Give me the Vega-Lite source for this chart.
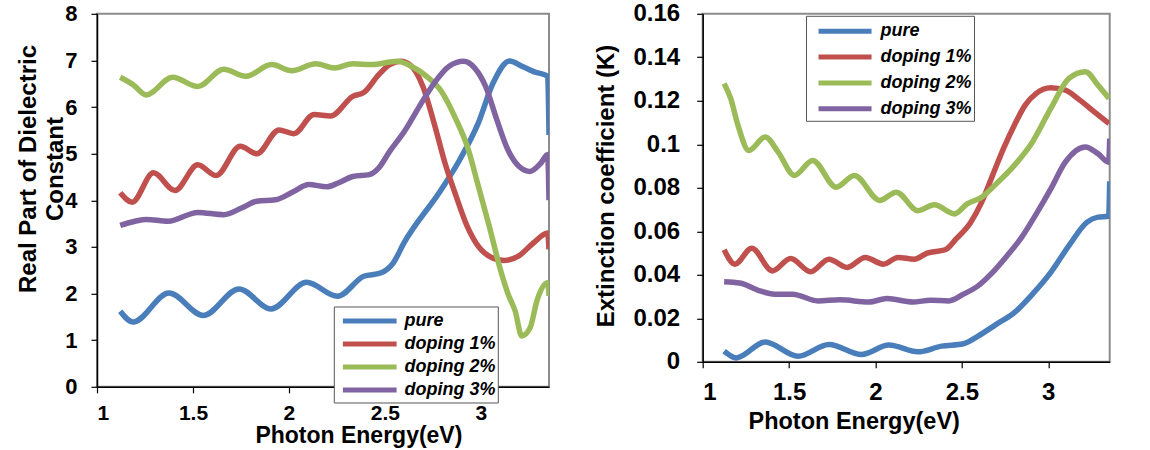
{
  "$schema": "https://vega.github.io/schema/vega-lite/v6.json",
  "background": "white",
  "padding": {"left": 15, "top": 0.8, "right": 5, "bottom": 2},
  "spacing": 153.7,
  "bounds": "flush",
  "config": {
    "font": "Liberation Sans",
    "view": {"stroke": "#8c8c8c", "strokeWidth": 2},
    "axis": {"domainColor": "black", "domainWidth": 1.5, "tickColor": "black", "tickSize": 6, "tickWidth": 1.2, "grid": false,
      "labelFont": "Liberation Sans", "labelFontWeight": "bold", "labelColor": "black",
      "titleFont": "Liberation Sans", "titleFontWeight": "bold", "titleColor": "black", "titleFontSize": 24},
    "legend": {"labelFont": "Liberation Sans", "labelFontWeight": "bold", "labelFontStyle": "italic", "labelFontSize": 18, "labelColor": "black", "labelLimit": 300,
      "strokeColor": "#555555", "fillColor": "white", "padding": 2, "symbolStrokeWidth": 5}
  },
  "datasets": {
    "eps": [
      {"s":"pure","E":1.121,"v":1.62},{"s":"pure","E":1.188,"v":1.39},{"s":"pure","E":1.375,"v":2.01},{"s":"pure","E":1.554,"v":1.53},{"s":"pure","E":1.74,"v":2.10},{"s":"pure","E":1.906,"v":1.67},{"s":"pure","E":2.092,"v":2.24},{"s":"pure","E":2.252,"v":1.94},{"s":"pure","E":2.39,"v":2.37},{"s":"pure","E":2.477,"v":2.44},{"s":"pure","E":2.544,"v":2.66},{"s":"pure","E":2.60,"v":3.09},{"s":"pure","E":2.794,"v":4.23},{"s":"pure","E":2.89,"v":4.87},{"s":"pure","E":2.987,"v":5.66},{"s":"pure","E":3.063,"v":6.51},{"s":"pure","E":3.15,"v":6.99},{"s":"pure","E":3.217,"v":6.87},{"s":"pure","E":3.275,"v":6.76},{"s":"pure","E":3.348,"v":6.66},{"s":"pure","E":3.355,"v":5.4},
      {"s":"doping 1%","E":1.121,"v":4.16},{"s":"doping 1%","E":1.183,"v":3.96},{"s":"doping 1%","E":1.294,"v":4.59},{"s":"doping 1%","E":1.406,"v":4.21},{"s":"doping 1%","E":1.525,"v":4.76},{"s":"doping 1%","E":1.621,"v":4.53},{"s":"doping 1%","E":1.746,"v":5.16},{"s":"doping 1%","E":1.833,"v":5.0},{"s":"doping 1%","E":1.948,"v":5.51},{"s":"doping 1%","E":2.025,"v":5.43},{"s":"doping 1%","E":2.131,"v":5.84},{"s":"doping 1%","E":2.217,"v":5.81},{"s":"doping 1%","E":2.333,"v":6.23},{"s":"doping 1%","E":2.39,"v":6.31},{"s":"doping 1%","E":2.467,"v":6.69},{"s":"doping 1%","E":2.525,"v":6.91},{"s":"doping 1%","E":2.583,"v":6.98},{"s":"doping 1%","E":2.64,"v":6.87},{"s":"doping 1%","E":2.698,"v":6.44},{"s":"doping 1%","E":2.756,"v":5.66},{"s":"doping 1%","E":2.813,"v":4.8},{"s":"doping 1%","E":2.871,"v":4.09},{"s":"doping 1%","E":2.929,"v":3.44},{"s":"doping 1%","E":2.987,"v":3.01},{"s":"doping 1%","E":3.063,"v":2.76},{"s":"doping 1%","E":3.121,"v":2.71},{"s":"doping 1%","E":3.198,"v":2.81},{"s":"doping 1%","E":3.275,"v":3.09},{"s":"doping 1%","E":3.348,"v":3.3},{"s":"doping 1%","E":3.355,"v":2.95},
      {"s":"doping 2%","E":1.121,"v":6.64},{"s":"doping 2%","E":1.188,"v":6.48},{"s":"doping 2%","E":1.256,"v":6.26},{"s":"doping 2%","E":1.394,"v":6.64},{"s":"doping 2%","E":1.525,"v":6.44},{"s":"doping 2%","E":1.66,"v":6.81},{"s":"doping 2%","E":1.775,"v":6.66},{"s":"doping 2%","E":1.91,"v":6.91},{"s":"doping 2%","E":2.015,"v":6.78},{"s":"doping 2%","E":2.14,"v":6.93},{"s":"doping 2%","E":2.237,"v":6.84},{"s":"doping 2%","E":2.333,"v":6.93},{"s":"doping 2%","E":2.429,"v":6.91},{"s":"doping 2%","E":2.563,"v":6.98},{"s":"doping 2%","E":2.64,"v":6.87},{"s":"doping 2%","E":2.717,"v":6.66},{"s":"doping 2%","E":2.794,"v":6.34},{"s":"doping 2%","E":2.871,"v":5.73},{"s":"doping 2%","E":2.929,"v":5.16},{"s":"doping 2%","E":2.987,"v":4.3},{"s":"doping 2%","E":3.044,"v":3.44},{"s":"doping 2%","E":3.102,"v":2.51},{"s":"doping 2%","E":3.14,"v":2.01},{"s":"doping 2%","E":3.179,"v":1.62},{"s":"doping 2%","E":3.213,"v":1.09},{"s":"doping 2%","E":3.256,"v":1.26},{"s":"doping 2%","E":3.294,"v":1.87},{"s":"doping 2%","E":3.348,"v":2.23},{"s":"doping 2%","E":3.355,"v":1.95},
      {"s":"doping 3%","E":1.121,"v":3.46},{"s":"doping 3%","E":1.198,"v":3.55},{"s":"doping 3%","E":1.256,"v":3.59},{"s":"doping 3%","E":1.371,"v":3.55},{"s":"doping 3%","E":1.525,"v":3.74},{"s":"doping 3%","E":1.66,"v":3.69},{"s":"doping 3%","E":1.756,"v":3.84},{"s":"doping 3%","E":1.833,"v":3.98},{"s":"doping 3%","E":1.929,"v":4.01},{"s":"doping 3%","E":2.025,"v":4.19},{"s":"doping 3%","E":2.102,"v":4.34},{"s":"doping 3%","E":2.198,"v":4.29},{"s":"doping 3%","E":2.256,"v":4.37},{"s":"doping 3%","E":2.333,"v":4.51},{"s":"doping 3%","E":2.419,"v":4.55},{"s":"doping 3%","E":2.467,"v":4.69},{"s":"doping 3%","E":2.525,"v":5.05},{"s":"doping 3%","E":2.602,"v":5.48},{"s":"doping 3%","E":2.679,"v":6.01},{"s":"doping 3%","E":2.756,"v":6.51},{"s":"doping 3%","E":2.833,"v":6.87},{"s":"doping 3%","E":2.91,"v":6.98},{"s":"doping 3%","E":2.967,"v":6.84},{"s":"doping 3%","E":3.025,"v":6.44},{"s":"doping 3%","E":3.083,"v":5.73},{"s":"doping 3%","E":3.14,"v":5.09},{"s":"doping 3%","E":3.198,"v":4.73},{"s":"doping 3%","E":3.256,"v":4.62},{"s":"doping 3%","E":3.313,"v":4.8},{"s":"doping 3%","E":3.348,"v":4.98},{"s":"doping 3%","E":3.355,"v":4.0}
    ],
    "k": [
      {"s":"pure","E":1.124,"v":0.0049},{"s":"pure","E":1.194,"v":0.0018},{"s":"pure","E":1.362,"v":0.0091},{"s":"pure","E":1.552,"v":0.0026},{"s":"pure","E":1.731,"v":0.0080},{"s":"pure","E":1.92,"v":0.0034},{"s":"pure","E":2.078,"v":0.0077},{"s":"pure","E":2.246,"v":0.0046},{"s":"pure","E":2.383,"v":0.0072},{"s":"pure","E":2.509,"v":0.0083},{"s":"pure","E":2.594,"v":0.0118},{"s":"pure","E":2.699,"v":0.0172},{"s":"pure","E":2.804,"v":0.0226},{"s":"pure","E":2.909,"v":0.0311},{"s":"pure","E":3.015,"v":0.0411},{"s":"pure","E":3.12,"v":0.0534},{"s":"pure","E":3.225,"v":0.0642},{"s":"pure","E":3.288,"v":0.0665},{"s":"pure","E":3.35,"v":0.0669},{"s":"pure","E":3.356,"v":0.083},
      {"s":"doping 1%","E":1.124,"v":0.0515},{"s":"doping 1%","E":1.187,"v":0.0449},{"s":"doping 1%","E":1.284,"v":0.0522},{"s":"doping 1%","E":1.404,"v":0.0418},{"s":"doping 1%","E":1.509,"v":0.0475},{"s":"doping 1%","E":1.625,"v":0.0414},{"s":"doping 1%","E":1.731,"v":0.0472},{"s":"doping 1%","E":1.836,"v":0.0434},{"s":"doping 1%","E":1.941,"v":0.048},{"s":"doping 1%","E":2.046,"v":0.0449},{"s":"doping 1%","E":2.131,"v":0.048},{"s":"doping 1%","E":2.225,"v":0.0472},{"s":"doping 1%","E":2.299,"v":0.05},{"s":"doping 1%","E":2.404,"v":0.0515},{"s":"doping 1%","E":2.467,"v":0.0565},{"s":"doping 1%","E":2.552,"v":0.0642},{"s":"doping 1%","E":2.615,"v":0.0734},{"s":"doping 1%","E":2.678,"v":0.0857},{"s":"doping 1%","E":2.741,"v":0.098},{"s":"doping 1%","E":2.804,"v":0.1088},{"s":"doping 1%","E":2.867,"v":0.118},{"s":"doping 1%","E":2.931,"v":0.1234},{"s":"doping 1%","E":3.015,"v":0.126},{"s":"doping 1%","E":3.099,"v":0.1249},{"s":"doping 1%","E":3.183,"v":0.1203},{"s":"doping 1%","E":3.267,"v":0.1149},{"s":"doping 1%","E":3.352,"v":0.1095},
      {"s":"doping 2%","E":1.124,"v":0.128},{"s":"doping 2%","E":1.162,"v":0.1211},{"s":"doping 2%","E":1.204,"v":0.1088},{"s":"doping 2%","E":1.267,"v":0.0972},{"s":"doping 2%","E":1.362,"v":0.1034},{"s":"doping 2%","E":1.436,"v":0.0965},{"s":"doping 2%","E":1.531,"v":0.0857},{"s":"doping 2%","E":1.636,"v":0.0926},{"s":"doping 2%","E":1.773,"v":0.0803},{"s":"doping 2%","E":1.878,"v":0.0857},{"s":"doping 2%","E":2.025,"v":0.0742},{"s":"doping 2%","E":2.12,"v":0.078},{"s":"doping 2%","E":2.246,"v":0.0695},{"s":"doping 2%","E":2.341,"v":0.0722},{"s":"doping 2%","E":2.457,"v":0.068},{"s":"doping 2%","E":2.531,"v":0.0726},{"s":"doping 2%","E":2.615,"v":0.0757},{"s":"doping 2%","E":2.699,"v":0.0818},{"s":"doping 2%","E":2.804,"v":0.0903},{"s":"doping 2%","E":2.909,"v":0.1011},{"s":"doping 2%","E":3.015,"v":0.1165},{"s":"doping 2%","E":3.12,"v":0.1303},{"s":"doping 2%","E":3.215,"v":0.1334},{"s":"doping 2%","E":3.288,"v":0.1272},{"s":"doping 2%","E":3.352,"v":0.1211},
      {"s":"doping 3%","E":1.124,"v":0.0368},{"s":"doping 3%","E":1.215,"v":0.0362},{"s":"doping 3%","E":1.331,"v":0.0326},{"s":"doping 3%","E":1.415,"v":0.0311},{"s":"doping 3%","E":1.52,"v":0.0311},{"s":"doping 3%","E":1.667,"v":0.028},{"s":"doping 3%","E":1.794,"v":0.0285},{"s":"doping 3%","E":1.962,"v":0.0275},{"s":"doping 3%","E":2.067,"v":0.0291},{"s":"doping 3%","E":2.215,"v":0.0275},{"s":"doping 3%","E":2.32,"v":0.0283},{"s":"doping 3%","E":2.425,"v":0.028},{"s":"doping 3%","E":2.509,"v":0.0311},{"s":"doping 3%","E":2.594,"v":0.0349},{"s":"doping 3%","E":2.678,"v":0.0411},{"s":"doping 3%","E":2.762,"v":0.0488},{"s":"doping 3%","E":2.846,"v":0.0572},{"s":"doping 3%","E":2.931,"v":0.068},{"s":"doping 3%","E":3.015,"v":0.0795},{"s":"doping 3%","E":3.099,"v":0.0918},{"s":"doping 3%","E":3.215,"v":0.0988},{"s":"doping 3%","E":3.288,"v":0.0957},{"s":"doping 3%","E":3.35,"v":0.0918},{"s":"doping 3%","E":3.356,"v":0.1026}
    ]
  },
  "resolve": {"scale": {"color": "independent"}, "legend": {"color": "independent"}},
  "hconcat": [
    {
      "width": 452, "height": 373,
      "data": {"name": "eps"},
      "mark": {"type": "line", "interpolate": "monotone", "strokeWidth": 5.5, "clip": true},
      "encoding": {
        "x": {"field": "E", "type": "quantitative", "scale": {"domain": [1, 3.355], "nice": false, "zero": false},
          "axis": {"values": [1, 1.5, 2, 2.5, 3], "format": "~g", "labelFontSize": 21, "labelPadding": 10, "title": "Photon Energy(eV)", "titleFontSize": 23, "titleX": 261.4, "titleY": 38}},
        "y": {"field": "v", "type": "quantitative", "scale": {"domain": [0, 8], "nice": false},
          "axis": {"values": [0, 1, 2, 3, 4, 5, 6, 7, 8], "labelFontSize": 22, "labelPadding": 14, "title": ["Real Part of Dielectric", "Constant"], "titleLineHeight": 27, "titleX": -68.9, "titleY": 154.7, "titleBaseline": "middle", "titleAlign": "center", "titleAngle": 270}},
        "color": {"field": "s", "type": "nominal",
          "scale": {"domain": ["pure", "doping 1%", "doping 2%", "doping 3%"], "range": ["#4a7ebb", "#c0504d", "#9bbb59", "#8064a2"]},
          "legend": {"title": null, "orient": "none", "legendX": 236.8, "legendY": 292.7, "symbolType": "M-0.54,0H4.83", "symbolSize": 400, "labelOffset": 43.8, "rowPadding": 0}}
      }
    },
    {
      "width": 407, "height": 348,
      "data": {"name": "k"},
      "mark": {"type": "line", "interpolate": "monotone", "strokeWidth": 5.5, "clip": true},
      "encoding": {
        "x": {"field": "E", "type": "quantitative", "scale": {"domain": [1, 3.356], "nice": false, "zero": false},
          "axis": {"values": [1, 1.5, 2, 2.5, 3], "format": "~g", "labelFontSize": 24, "labelPadding": 13, "title": "Photon Energy(eV)", "titleFontSize": 23.5, "titleX": 151, "titleY": 48}},
        "y": {"field": "v", "type": "quantitative", "scale": {"domain": [0, 0.16], "nice": false},
          "axis": {"values": [0, 0.02, 0.04, 0.06, 0.08, 0.1, 0.12, 0.14, 0.16], "format": "~g", "labelFontSize": 24, "labelPadding": 17, "title": "Extinction coefficient (K)", "titleX": -95.7, "titleY": 171.7, "titleBaseline": "middle", "titleAlign": "center", "titleAngle": 270}},
        "color": {"field": "s", "type": "nominal",
          "scale": {"domain": ["pure", "doping 1%", "doping 2%", "doping 3%"], "range": ["#4a7ebb", "#c0504d", "#9bbb59", "#8064a2"]},
          "legend": {"title": null, "orient": "none", "legendX": 103.3, "legendY": 2, "symbolType": "M-0.27,0H4.55", "symbolSize": 484, "labelOffset": 45.5, "rowPadding": 1.8}}
      }
    }
  ]
}
